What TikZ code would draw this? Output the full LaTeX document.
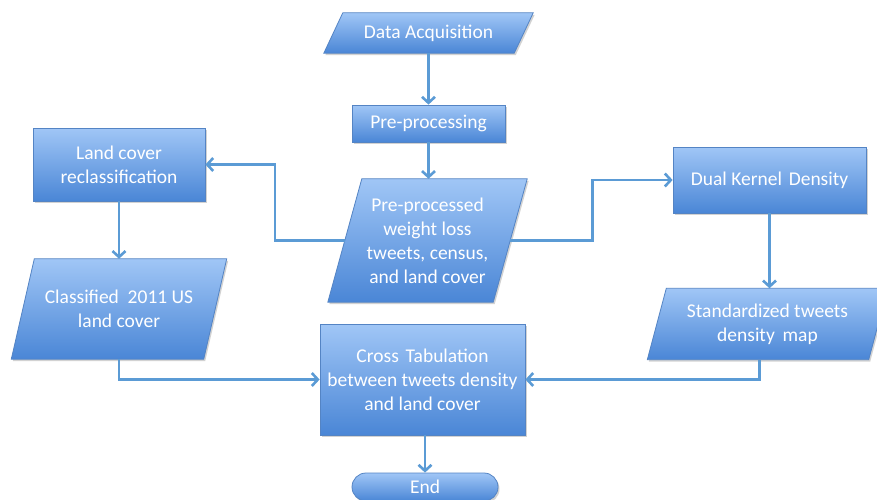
\documentclass[tikz,border=0pt]{standalone}
\usepackage{fontspec}
\setmainfont{Carlito}
\usetikzlibrary{arrows.meta,shadows,backgrounds}
\definecolor{boxtop}{RGB}{160,198,246}
\definecolor{boxbot}{RGB}{74,134,214}
\definecolor{boxline}{RGB}{84,132,196}
\definecolor{connline}{RGB}{91,155,213}
\tikzset{
  txt/.style={text=white, font=\fontsize{19.5}{24}\selectfont, align=center, inner sep=0pt},
  shadebox/.style={top color=boxtop, bottom color=boxbot, draw=boxline, line width=0.8pt,
    drop shadow={opacity=0.35, shadow xshift=1.5pt, shadow yshift=-2pt}},
  rectbox/.style={txt, shadebox, rectangle},
  parabox/.style={txt, rectangle, draw=none},
  conn/.style={draw=connline, line width=2.6pt, -{Straight Barb[length=6pt,width=13pt,line width=2.6pt]}},
}
\newcommand{\paraShape}[2]{%
  \path[shadebox] ([xshift=-#2/2]#1.south west) -- ([xshift=#2/2]#1.north west)
    -- ([xshift=#2/2]#1.north east) -- ([xshift=-#2/2]#1.south east) -- cycle;}
\begin{document}
\begin{tikzpicture}[x=1pt,y=-1pt]
\useasboundingbox (0,0) rectangle (877,499);
% nodes
\node[parabox, minimum width=190pt, minimum height=40pt] (acq) at (428.5,33) {Data Acquisition};
\node[rectbox, minimum width=153pt, minimum height=37pt] (pre) at (428.5,123.5) {Pre-processing};
\node[parabox, minimum width=165pt, minimum height=123pt] (ppd) at (427.5,240.5) {Pre-processed\\weight loss\\tweets, census,\\and land cover};
\node[rectbox, minimum width=172pt, minimum height=73pt] (lcr) at (119,164.5) {Land cover\\reclassification};
\node[parabox, minimum width=192pt, minimum height=100pt] (cls) at (119,309) {Classified\hspace{0.45em}2011 US\\land cover};
\node[rectbox, minimum width=193pt, minimum height=66pt] (dkd) at (769.5,180) {Dual Kernel\hspace{0.35em}Density};
\node[parabox, minimum width=221pt, minimum height=71pt] (std) at (767.5,324) {Standardized tweets\\density\hspace{0.4em}map};
\node[rectbox, minimum width=205pt, minimum height=111pt] (ctb) at (422.5,379.5) {Cross\hspace{0.35em}Tabulation\\between tweets density\\and land cover};
\node[rectbox, rounded corners=14pt, minimum width=146pt, minimum height=28pt] (end) at (425,487) {End};
% parallelogram shapes behind text
\begin{pgfonlayer}{background}
\fill[white] (0,0) rectangle (877,499);
\paraShape{acq}{19pt}
\paraShape{ppd}{34pt}
\paraShape{cls}{23pt}
\paraShape{std}{19pt}
\end{pgfonlayer}
% connectors
\draw[conn] (acq.south) -- (acq.south |- pre.north);
\draw[conn] (pre.south) -- (pre.south |- ppd.north);
\draw[conn] (ppd.west) -- ++(-70,0) |- (lcr.east);
\draw[conn] (ppd.east) -- ++(82,0) |- (dkd.west);
\draw[conn] (lcr.south) -- (lcr.south |- cls.north);
\draw[conn] (cls.south) |- (ctb.west);
\draw[conn] (dkd.south) -- (dkd.south |- std.north);
\draw[conn] ([xshift=-8pt]std.south) |- (ctb.east);
\draw[conn] (ctb.south -| end.north) -- (end.north);
\end{tikzpicture}
\end{document}
